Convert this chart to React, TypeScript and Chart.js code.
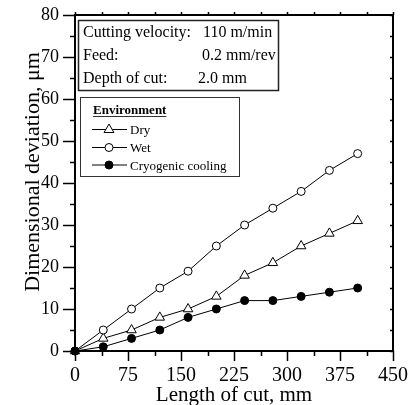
import { useEffect, useRef } from "react";
import { Chart, registerables } from "chart.js";

Chart.register(...registerables);

const lengthOfCut = [0, 40, 80, 120, 160, 200, 240, 280, 320, 360, 400];
const dry = [0, 3, 5, 8, 10, 13, 18, 21, 25, 28, 31];
const wet = [0, 5, 10, 15, 19, 25, 30, 34, 38, 43, 47];
const cryo = [0, 1, 3, 5, 8, 10, 12, 12, 13, 14, 15];
const seriesNames = ["Dry", "Wet", "Cryogenic cooling"];
const conditionLabels = ["Cutting velocity:", "Feed:", "Depth of cut:"];
const conditionValues = ["110 m/min", "0.2 mm/rev", "2.0 mm"];
const legendTitle = "Environment";
const xTitle = "Length of cut, mm";
const yTitle = "Dimensional deviation, μm";
const xMin = 0, xMax = 450, xStep = 75;
const yMin = 0, yMax = 80, yStep = 10;

const SERIF = "'Liberation Serif', 'Times New Roman', serif";

const decorPlugin = {
  id: "decor",
  afterDraw(chart: any) {
    const { ctx, chartArea: a, scales } = chart;
    const xs = scales.x;
    const ys = scales.y;
    ctx.save();
    ctx.strokeStyle = "#000";
    // ticks
    ctx.lineWidth = 1.5;
    ctx.beginPath();
    for (let v = xMin; v <= xMax + 0.01; v += xStep / 2) {
      const px = Math.round(xs.getPixelForValue(v)) + 0.5;
      const major = Math.abs(v / xStep - Math.round(v / xStep)) < 1e-6;
      ctx.moveTo(px, a.bottom);
      ctx.lineTo(px, a.bottom + (major ? 10 : 5));
      ctx.moveTo(px, a.top);
      ctx.lineTo(px, a.top - 3);
    }
    for (let v = yMin; v <= yMax + 0.01; v += yStep / 2) {
      const py = Math.round(ys.getPixelForValue(v)) + 0.5;
      const major = Math.abs(v / yStep - Math.round(v / yStep)) < 1e-6;
      ctx.moveTo(a.left, py);
      ctx.lineTo(a.left - (major ? 12 : 5), py);
      ctx.moveTo(a.right, py);
      ctx.lineTo(a.right - 3, py);
    }
    ctx.stroke();
    // frame
    ctx.lineWidth = 2;
    ctx.strokeRect(a.left, a.top, a.right - a.left, a.bottom - a.top);

    ctx.fillStyle = "#000";
    // x title
    ctx.font = `21px ${SERIF}`;
    ctx.textAlign = "center";
    ctx.textBaseline = "alphabetic";
    ctx.fillText(xTitle, (a.left + a.right) / 2, 401);
    // y title
    ctx.save();
    ctx.translate(39, 172);
    ctx.rotate(-Math.PI / 2);
    ctx.font = `22px ${SERIF}`;
    ctx.textAlign = "center";
    ctx.textBaseline = "alphabetic";
    ctx.fillText(yTitle, 0, 0);
    ctx.restore();

    // conditions box
    ctx.lineWidth = 1.5;
    ctx.strokeStyle = "#222";
    ctx.strokeRect(78.5, 20.5, 200, 70);
    ctx.font = `16px ${SERIF}`;
    ctx.textAlign = "left";
    ctx.textBaseline = "alphabetic";
    const baselines = [37, 60, 83];
    const valueX = [203, 202, 198];
    conditionLabels.forEach((t, i) => {
      ctx.fillText(t, 83, baselines[i]);
      ctx.fillText(conditionValues[i], valueX[i], baselines[i]);
    });

    // legend box
    ctx.lineWidth = 1;
    ctx.strokeStyle = "#333";
    ctx.strokeRect(80.5, 97.5, 159, 79);
    ctx.font = `bold 13px ${SERIF}`;
    ctx.fillText(legendTitle, 93, 114);
    const w = ctx.measureText(legendTitle).width;
    ctx.beginPath();
    ctx.moveTo(93, 116.5);
    ctx.lineTo(93 + w, 116.5);
    ctx.stroke();
    ctx.font = `13px ${SERIF}`;
    const rows = [129.5, 147.5, 165];
    chart.data.datasets.forEach((ds: any, i: number) => {
      const y = rows[i];
      ctx.strokeStyle = "#000";
      ctx.lineWidth = 1;
      ctx.beginPath();
      ctx.moveTo(92, y);
      ctx.lineTo(127, y);
      ctx.stroke();
      ctx.fillStyle = ds.pointBackgroundColor;
      ctx.strokeStyle = "#000";
      if (ds.pointStyle === "triangle") {
        const r = ds.pointRadius;
        ctx.beginPath();
        ctx.moveTo(109, y - r);
        ctx.lineTo(109 + r * 0.9, y + r * 0.55);
        ctx.lineTo(109 - r * 0.9, y + r * 0.55);
        ctx.closePath();
        ctx.fill();
        ctx.stroke();
      } else {
        ctx.beginPath();
        ctx.arc(109, y, ds.pointRadius, 0, Math.PI * 2);
        ctx.fill();
        ctx.stroke();
      }
      ctx.fillStyle = "#000";
      ctx.fillText(seriesNames[i], 130, y + 4.5);
    });
    ctx.restore();
  },
};

export default function App() {
  const ref = useRef<HTMLCanvasElement>(null);
  useEffect(() => {
    if (!ref.current) return;
    const mk = (vals: number[]) => lengthOfCut.map((x, i) => ({ x, y: vals[i] }));
    const chart = new Chart(ref.current, {
      type: "line",
      data: {
        datasets: [
          {
            label: seriesNames[0],
            data: mk(dry),
            borderColor: "#000",
            borderWidth: 1,
            pointStyle: "triangle",
            pointRadius: 5.5,
            pointBackgroundColor: "#fff",
            pointBorderColor: "#000",
            pointBorderWidth: 1,
            order: 2,
            clip: false,
          },
          {
            label: seriesNames[1],
            data: mk(wet),
            borderColor: "#000",
            borderWidth: 1,
            pointStyle: "circle",
            pointRadius: 4,
            pointBackgroundColor: "#fff",
            pointBorderColor: "#000",
            pointBorderWidth: 1,
            order: 1,
            clip: false,
          },
          {
            label: seriesNames[2],
            data: mk(cryo),
            borderColor: "#000",
            borderWidth: 1,
            pointStyle: "circle",
            pointRadius: 4,
            pointBackgroundColor: "#000",
            pointBorderColor: "#000",
            pointBorderWidth: 1,
            order: 0,
            clip: false,
          },
        ] as any,
      },
      options: {
        animation: false,
        responsive: false,
        events: [],
        layout: { padding: { top: 15, right: 18, left: 0, bottom: 0 } },
        plugins: { legend: { display: false }, tooltip: { enabled: false } },
        scales: {
          x: {
            type: "linear",
            min: xMin,
            max: xMax,
            afterFit: (s: any) => {
              s.height = 54;
              s.paddingLeft = 0;
              s.paddingRight = 0;
            },
            afterBuildTicks: (s: any) => {
              const t = [];
              for (let v = xMin; v <= xMax; v += xStep) t.push({ value: v });
              s.ticks = t;
            },
            grid: { display: false, drawTicks: false },
            border: { display: false },
            ticks: { color: "#000", padding: 13, font: { family: SERIF, size: 20 }, maxRotation: 0, autoSkip: false },
          },
          y: {
            type: "linear",
            min: yMin,
            max: yMax,
            afterFit: (s: any) => {
              s.width = 75;
              s.paddingTop = 0;
              s.paddingBottom = 0;
            },
            afterBuildTicks: (s: any) => {
              const t = [];
              for (let v = yMin; v <= yMax; v += yStep) t.push({ value: v });
              s.ticks = t;
            },
            grid: { display: false, drawTicks: false },
            border: { display: false },
            ticks: { color: "#000", padding: 16, font: { family: SERIF, size: 18 }, autoSkip: false },
          },
        },
      },
      plugins: [decorPlugin],
    });
    return () => chart.destroy();
  }, []);
  return (
    <div style={{ position: "absolute", left: 0, top: 0, width: 411, height: 405, background: "#fff" }}>
      <canvas ref={ref} width={411} height={405} />
    </div>
  );
}
